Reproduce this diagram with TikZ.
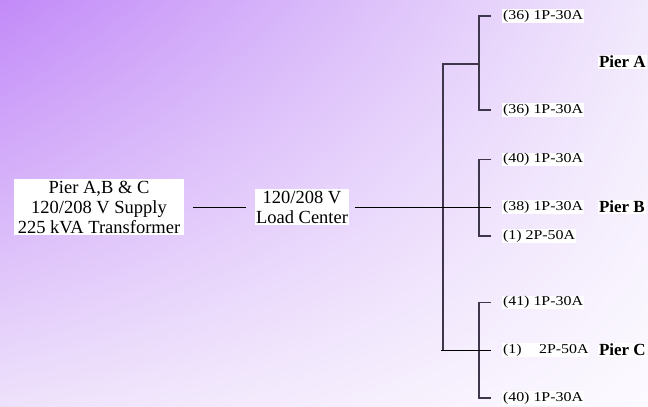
\documentclass[tikz,border=0pt]{standalone}
\usepackage{fontspec}
\setmainfont{Liberation Serif}
\newfontfamily\tapfont{Liberation Serif}[FakeStretch=1.18]
\usepackage{xcolor}
\usepackage{tikz}
\usetikzlibrary{positioning, shadings}
\definecolor{bgTL}{RGB}{194,138,248}
\definecolor{bgTR}{RGB}{241,233,252}
\definecolor{bgBL}{RGB}{238,226,251}
\definecolor{bgBR}{RGB}{252,250,255}
\definecolor{busgray}{RGB}{62,54,74}

\begin{document}
\begin{tikzpicture}[x=1pt,y=-1pt]
	\tikzstyle{box}=[fill=white,inner sep=1.5pt,align=center,font=\fontsize{18.5}{20}\selectfont]
	\tikzstyle{tap}=[fill=white,inner sep=0.8pt,anchor=west,font=\tapfont\fontsize{13.5}{15}\selectfont]
	\tikzstyle{pier}=[fill=white,inner sep=0.8pt,anchor=west,font=\bfseries\fontsize{17}{20}\selectfont]
	\tikzstyle{bus}=[draw=busgray,line width=1.6pt]
	\tikzstyle{feed}=[draw=black,line width=1pt]
	% background
	\shade[upper left=bgTL,upper right=bgTR,lower left=bgBL,lower right=bgBR] (0,0) rectangle (648,407);
	\useasboundingbox (0,0) rectangle (648,407);
	% supply and load center
	\node[box,inner xsep=4pt](supply) at (99,207) {Pier A,B \& C\\120/208 V Supply\\225 kVA Transformer};
	\node[box](load) at (302,207) {120/208 V\\Load Center};
	\draw[feed,shorten <=9pt,shorten >=8pt] (supply) -- (load);
	% taps
	\node[tap](a1) at (502,16) {(36) 1P-30A};
	\node[tap](a2) at (502,110) {(36) 1P-30A};
	\node[tap](b1) at (502,159.5) {(40) 1P-30A};
	\node[tap](b2) at (502,207) {(38) 1P-30A};
	\node[tap](b3) at (502,236) {(1) 2P-50A};
	\node[tap](c1) at (502,302.5) {(41) 1P-30A};
	\node[tap](c2) at (502,350) {(1)\hspace{1.3em}2P-50A};
	\node[tap](c3) at (502,398) {(40) 1P-30A};
	\node[pier](pa) at (598,62) {Pier A};
	\node[pier](pb) at (598,207) {Pier B};
	\node[pier](pc) at (598,350) {Pier C};
	% brackets
	\coordinate (jA) at (479,64);
	\coordinate (jB) at (479,207);
	\coordinate (jC) at (479,350);
	\coordinate (tA) at (443,64);
	\coordinate (tC) at (443,350);
	\draw[bus] ([xshift=-11pt]a1.west) -| (jA) |- ([xshift=-11pt]a2.west);
	\draw[bus] ([xshift=-11pt]b1.west) -| (jB) |- ([xshift=-11pt]b3.west);
	\draw[bus] ([xshift=-11pt]c1.west) -| (jC) |- ([xshift=-11pt]c3.west);
	\draw[bus] (jA) -- (tA) -- (tC);
	\draw[feed,shorten <=5pt] (load) -- ([xshift=-11pt]b2.west);
	\draw[feed] ([xshift=-2pt]tC) -- ([xshift=-11pt]c2.west);
\end{tikzpicture}
\end{document}
